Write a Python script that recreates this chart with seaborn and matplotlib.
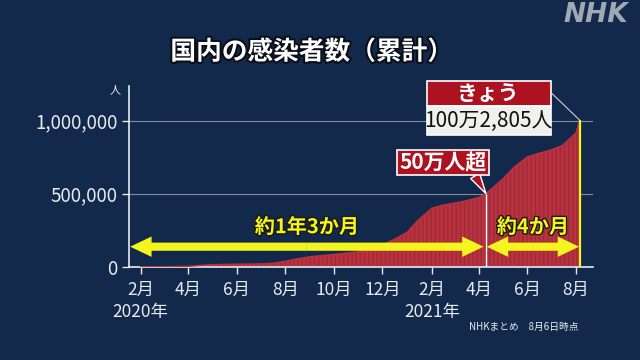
import pandas as pd
import matplotlib.pyplot as plt
import matplotlib.dates as mdates
import matplotlib.patheffects as pe
from matplotlib.patches import Rectangle
import seaborn as sns

# cumulative infections in Japan
dates = ["2020-02-01", "2020-03-01", "2020-04-01", "2020-04-15", "2020-05-01",
         "2020-06-01", "2020-07-01", "2020-07-15", "2020-08-01", "2020-08-15",
         "2020-09-01", "2020-10-01", "2020-11-01", "2020-11-15", "2020-12-01",
         "2020-12-15", "2021-01-01", "2021-01-15", "2021-02-01", "2021-02-15",
         "2021-03-01", "2021-03-15", "2021-04-01", "2021-04-10", "2021-05-01",
         "2021-05-15", "2021-06-01", "2021-06-15", "2021-07-01", "2021-07-15",
         "2021-08-01", "2021-08-06"]
cases = [20, 300, 2500, 8500, 14500,
         17000, 19000, 23000, 37000, 53000,
         68000, 84000, 102000, 117000, 150000,
         185000, 236000, 320000, 400000, 422000,
         435000, 450000, 474000, 500000, 600000,
         680000, 752000, 776000, 800000, 830000,
         915000, 1002805]

tick_dates = pd.date_range("2020-02-01", "2021-08-01", freq="2MS")
tick_labels = ["2月\n2020年", "4月", "6月", "8月", "10月", "12月",
               "2月\n2021年", "4月", "6月", "8月"]
y_ticks = [0, 500000, 1000000]
y_labels = ["0", "500,000", "1,000,000"]
milestone = 500000
today_text = "100万2,805人"

bg = "#13294b"
red = "#b83240"
box_red = "#ad1220"
yellow = "#f4f41e"
light = "#e6ebf0"

sns.set_theme(style="dark")
plt.rcParams["font.family"] = ["Noto Sans CJK JP", "DejaVu Sans"]

df = pd.DataFrame({"date": pd.to_datetime(dates), "cases": cases})


def fx(px):
    return px / 640


def fy(py):
    return 1 - py / 360


fig = plt.figure(figsize=(6.4, 3.6), dpi=100, facecolor=bg)
ax = fig.add_axes([fx(128.6), fy(266.7), fx(592.6 - 128.6), (266.7 - 86) / 360])
ax.set_facecolor(bg)

ax.fill_between(df["date"], df["cases"], color=red, hatch="||||",
                edgecolor="#a02a37", linewidth=0, zorder=2)
sns.lineplot(data=df, x="date", y="cases", color=red, lw=1, ax=ax, zorder=3)

m_row = df[df["cases"] >= milestone].iloc[0]
last = df.iloc[-1]
ax.vlines(m_row["date"], 0, m_row["cases"], color="white", lw=1, zorder=4)
ax.vlines(last["date"], 0, last["cases"], color=yellow, lw=1.6, zorder=4)

x_left = pd.Timestamp("2020-01-17")
x_right = pd.Timestamp("2021-08-22")
ax.set_xlim(x_left, x_right)
ax.set_ylim(0, 1237700)

ax.set_xticks(tick_dates)
ax.set_xticklabels(tick_labels)
ax.set_yticks(y_ticks)
ax.set_yticklabels(y_labels)
ax.set_xlabel("")
ax.set_ylabel("")
for t in ax.get_xticklabels():
    t.set_linespacing(1.3)
ax.tick_params(axis="both", bottom=True, left=True, direction="out", length=5,
               width=1, color=light, labelcolor=light)
ax.tick_params(axis="x", labelsize=12.5, pad=5.5)
ax.tick_params(axis="y", labelsize=13.5, pad=3)

ax.grid(axis="y", color="#7f8da0", lw=0.8)
ax.grid(axis="x", visible=False)
ax.set_axisbelow(True)
for s in ["top", "right"]:
    ax.spines[s].set_visible(False)
for s in ["left", "bottom"]:
    ax.spines[s].set_color(light)
    ax.spines[s].set_linewidth(1.2)


# yellow double arrows
def double_arrow(x0, x1, y):
    a, b = mdates.date2num(x0), mdates.date2num(x1)
    mid = (a + b) / 2
    style = "simple,head_length=1.1,head_width=1.05,tail_width=0.42"
    for end in (a, b):
        ax.annotate("", xy=(end, y), xytext=(mid, y),
                    arrowprops=dict(arrowstyle=style, color=yellow, lw=0,
                                    mutation_scale=14, shrinkA=0, shrinkB=0),
                    zorder=5)
    return mid


arrow_y = 137000
label_y = 274000
mid1 = double_arrow(x_left + pd.Timedelta(days=2),
                    m_row["date"] - pd.Timedelta(days=3), arrow_y)
mid2 = double_arrow(m_row["date"] + pd.Timedelta(days=1),
                    last["date"] - pd.Timedelta(days=1), arrow_y)
for mid, txt in [(mid1, "約1年3か月"), (mid2, "約4か月")]:
    ax.text(mid, label_y, txt, ha="center", va="center", fontsize=14.5,
            weight="bold", color=yellow, zorder=6,
            path_effects=[pe.withStroke(linewidth=2, foreground="#1a1a10")])

# 50万人超 callout
ax.annotate("50万人超", xy=(m_row["date"], m_row["cases"]), xytext=(-43, 31),
            textcoords="offset pixels", ha="center", va="center", fontsize=15,
            weight="bold", color="white", zorder=7,
            bbox=dict(boxstyle="square,pad=0.1", fc=box_red, ec="white", lw=1.2),
            arrowprops=dict(arrowstyle="wedge,tail_width=0.5", fc=box_red,
                            ec="white", lw=1.0, relpos=(0.85, 0),
                            shrinkA=0, shrinkB=0))

# today box
fig.patches.append(Rectangle((fx(426.5), fy(106)), fx(124.5), 25.3 / 360,
                             transform=fig.transFigure, fc=box_red, ec="white",
                             lw=1.2, zorder=8))
fig.patches.append(Rectangle((fx(426.5), fy(135)), fx(124.5), 29 / 360,
                             transform=fig.transFigure, fc="#f0f0ee", ec="white",
                             lw=1.2, zorder=8))
fig.text(fx(488.7), fy(93.4), "きょう", ha="center", va="center", fontsize=15,
         weight="bold", color="white", zorder=9)
fig.text(fx(488.7), fy(120.5), today_text, ha="center", va="center",
         fontsize=15, color="#111111", zorder=9)
ax.annotate("", xy=(last["date"], last["cases"]), xytext=(fx(551.7), fy(93.3)),
            textcoords="figure fraction",
            arrowprops=dict(arrowstyle="-", color="#c8d0d8", lw=0.8,
                            shrinkA=0, shrinkB=0))

# titles and notes
fig.text(fx(312), fy(52), "国内の感染者数（累計）", ha="center", va="center",
         fontsize=18.5, weight="bold", color="white",
         path_effects=[pe.withStroke(linewidth=3, foreground="#0a0f1a")])
fig.text(fx(115.5), fy(90.7), "人", ha="center", va="center", fontsize=8,
         color=light)
fig.text(fx(524), fy(327), "NHKまとめ　8月6日時点", ha="center", va="center",
         fontsize=7, color=light)
fig.text(fx(596), fy(15), "NHK", ha="center", va="center", fontsize=19,
         weight="bold", style="italic", color="#a0a8b3", family="DejaVu Sans")

fig.savefig("out.png", dpi=100, facecolor=bg)
